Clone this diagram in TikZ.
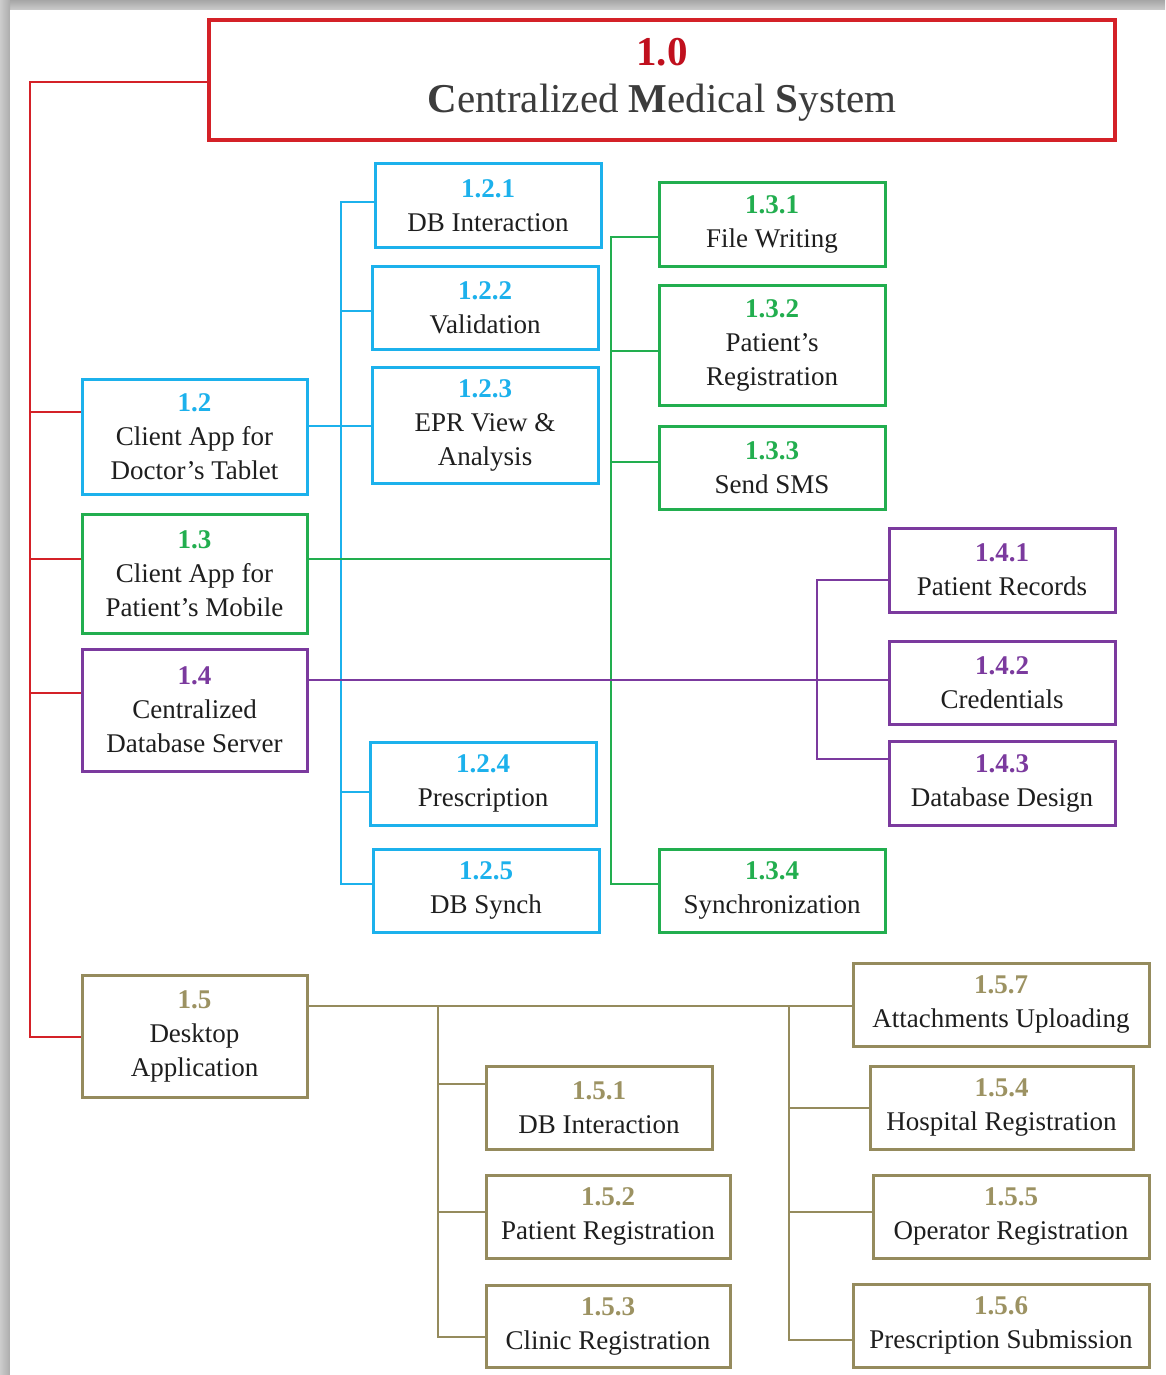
\documentclass[tikz,border=0pt]{standalone}
\usepackage{fontspec}
\setmainfont{Liberation Serif}
\definecolor{cred}{HTML}{D42128}
\definecolor{titred}{HTML}{C0101E}
\definecolor{titgray}{HTML}{3C3C3C}
\definecolor{cblue}{HTML}{1CB1EC}
\definecolor{cgreen}{HTML}{22AE4F}
\definecolor{cpurple}{HTML}{7B3A9E}
\definecolor{colive}{HTML}{958B5D}
\definecolor{colivet}{HTML}{9C9262}
\definecolor{txt}{HTML}{1E1E1E}
\tikzset{
  wbox/.style={draw=#1, line width=3pt, fill=white, align=center, inner sep=0pt,
    font=\fontsize{27}{34}\selectfont, text=txt},
  conn/.style={draw=#1, line width=2.8pt},
}
\begin{document}
\begin{tikzpicture}[x=1pt,y=-1pt]
\useasboundingbox (0,0) rectangle (1165,1375);
\fill[gray!55] (0,0) rectangle (1165,1375);
\shade[top color=gray!70, bottom color=gray!40] (0,0) rectangle (1165,10);
\shade[left color=gray!40, right color=gray!65] (0,0) rectangle (10,1375);
\fill[white] (10,10) rectangle (1165,1375);

% title
\node[draw=cred, line width=3.2pt, fill=white, minimum width=906pt, minimum height=120pt,
  align=center, inner sep=0pt, font=\fontsize{41}{47}\selectfont, text=titgray] (t) at (662,80)
  {\textbf{\textcolor{titred}{1.0}}\\
   \textbf{C}entralized \textbf{M}edical \textbf{S}ystem};

% level 2
\node[wbox=cblue, minimum width=225pt, minimum height=115pt] (n12) at (194.5,436.5)
  {\textbf{\textcolor{cblue}{1.2}}\\Client App for\\Doctor’s Tablet};
\node[wbox=cgreen, minimum width=225pt, minimum height=119pt] (n13) at (194.5,573.5)
  {\textbf{\textcolor{cgreen}{1.3}}\\Client App for\\Patient’s Mobile};
\node[wbox=cpurple, minimum width=225pt, minimum height=122pt] (n14) at (194.5,710)
  {\textbf{\textcolor{cpurple}{1.4}}\\Centralized\\Database Server};
\node[wbox=colive, minimum width=225pt, minimum height=122pt] (n15) at (194.5,1036)
  {\textbf{\textcolor{colivet}{1.5}}\\Desktop\\Application};

% level 3 blue
\node[wbox=cblue, minimum width=226pt, minimum height=83pt] (n121) at (488,205.5)
  {\textbf{\textcolor{cblue}{1.2.1}}\\DB Interaction};
\node[wbox=cblue, minimum width=226pt, minimum height=83pt] (n122) at (485,307.5)
  {\textbf{\textcolor{cblue}{1.2.2}}\\Validation};
\node[wbox=cblue, minimum width=226pt, minimum height=116pt] (n123) at (485,425)
  {\textbf{\textcolor{cblue}{1.2.3}}\\EPR View \&\\Analysis};
\node[wbox=cblue, minimum width=226pt, minimum height=83pt] (n124) at (483,783.5)
  {\textbf{\textcolor{cblue}{1.2.4}}\\Prescription};
\node[wbox=cblue, minimum width=226pt, minimum height=83pt] (n125) at (486,890.5)
  {\textbf{\textcolor{cblue}{1.2.5}}\\DB Synch};

% level 3 green
\node[wbox=cgreen, minimum width=226pt, minimum height=83pt] (n131) at (772,224.5)
  {\textbf{\textcolor{cgreen}{1.3.1}}\\File Writing};
\node[wbox=cgreen, minimum width=226pt, minimum height=120pt] (n132) at (772,345)
  {\textbf{\textcolor{cgreen}{1.3.2}}\\Patient’s\\Registration};
\node[wbox=cgreen, minimum width=226pt, minimum height=83pt] (n133) at (772,467.5)
  {\textbf{\textcolor{cgreen}{1.3.3}}\\Send SMS};
\node[wbox=cgreen, minimum width=226pt, minimum height=83pt] (n134) at (772,890.5)
  {\textbf{\textcolor{cgreen}{1.3.4}}\\Synchronization};

% level 3 purple
\node[wbox=cpurple, minimum width=226pt, minimum height=84pt] (n141) at (1002,570)
  {\textbf{\textcolor{cpurple}{1.4.1}}\\Patient Records};
\node[wbox=cpurple, minimum width=226pt, minimum height=83pt] (n142) at (1002,682.5)
  {\textbf{\textcolor{cpurple}{1.4.2}}\\Credentials};
\node[wbox=cpurple, minimum width=226pt, minimum height=84pt] (n143) at (1002,783)
  {\textbf{\textcolor{cpurple}{1.4.3}}\\Database Design};

% level 3 olive
\node[wbox=colive, minimum width=296pt, minimum height=83pt] (n157) at (1001,1004.5)
  {\textbf{\textcolor{colivet}{1.5.7}}\\Attachments Uploading};
\node[wbox=colive, minimum width=226pt, minimum height=83pt] (n151) at (599,1107.5)
  {\textbf{\textcolor{colivet}{1.5.1}}\\DB Interaction};
\node[wbox=colive, minimum width=244pt, minimum height=83pt] (n152) at (608,1216.5)
  {\textbf{\textcolor{colivet}{1.5.2}}\\Patient Registration};
\node[wbox=colive, minimum width=244pt, minimum height=82pt] (n153) at (608,1326)
  {\textbf{\textcolor{colivet}{1.5.3}}\\Clinic Registration};
\node[wbox=colive, minimum width=263pt, minimum height=83pt] (n154) at (1001.5,1107.5)
  {\textbf{\textcolor{colivet}{1.5.4}}\\Hospital Registration};
\node[wbox=colive, minimum width=276pt, minimum height=83pt] (n155) at (1011,1216.5)
  {\textbf{\textcolor{colivet}{1.5.5}}\\Operator Registration};
\node[wbox=colive, minimum width=296pt, minimum height=83pt] (n156) at (1001,1325.5)
  {\textbf{\textcolor{colivet}{1.5.6}}\\Prescription Submission};

% red connectors
\coordinate (rtop) at (30,82);
\coordinate (rbot) at (30,1037);
\draw[conn=cred] (t.west |- rtop) -- (rtop) -- (rbot) -- (n15.west |- rbot);
\draw[conn=cred] (rtop |- 0,412) -- (n12.west |- 0,412);
\draw[conn=cred] (rtop |- 0,559) -- (n13.west |- 0,559);
\draw[conn=cred] (rtop |- 0,693) -- (n14.west |- 0,693);

% blue connectors
\coordinate (b1) at (341,202);
\coordinate (b2) at (341,884);
\draw[conn=cblue] (n121.west |- b1) -- (b1) -- (b2) -- (n125.west |- b2);
\draw[conn=cblue] (b1 |- 0,311) -- (n122.west |- 0,311);
\draw[conn=cblue] (n12.east |- 0,426) -- (n123.west |- 0,426);
\draw[conn=cblue] (b1 |- 0,792) -- (n124.west |- 0,792);

% green connectors
\coordinate (g1) at (611,237);
\coordinate (g2) at (611,884);
\draw[conn=cgreen] (n131.west |- g1) -- (g1) -- (g2) -- (n134.west |- g2);
\draw[conn=cgreen] (g1 |- 0,351) -- (n132.west |- 0,351);
\draw[conn=cgreen] (g1 |- 0,462) -- (n133.west |- 0,462);
\draw[conn=cgreen] (n13.east |- 0,559) -- (g1 |- 0,559);

% purple connectors
\coordinate (p1) at (817,580);
\coordinate (p2) at (817,759);
\draw[conn=cpurple] (n141.west |- p1) -- (p1) -- (p2) -- (n143.west |- p2);
\draw[conn=cpurple] (n14.east |- 0,680) -- (n142.west |- 0,680);

% olive connectors
\draw[conn=colive] (n15.east |- 0,1006) -- (n157.west |- 0,1006);
\coordinate (o1) at (438,1006);
\coordinate (o2) at (438,1337);
\coordinate (o3) at (789,1006);
\coordinate (o4) at (789,1340);
\draw[conn=colive] (o1) -- (o2) -- (n153.west |- o2);
\draw[conn=colive] (o1 |- 0,1084) -- (n151.west |- 0,1084);
\draw[conn=colive] (o1 |- 0,1212) -- (n152.west |- 0,1212);
\draw[conn=colive] (o3) -- (o4) -- (n156.west |- o4);
\draw[conn=colive] (o3 |- 0,1108) -- (n154.west |- 0,1108);
\draw[conn=colive] (o3 |- 0,1212) -- (n155.west |- 0,1212);
\end{tikzpicture}
\end{document}
